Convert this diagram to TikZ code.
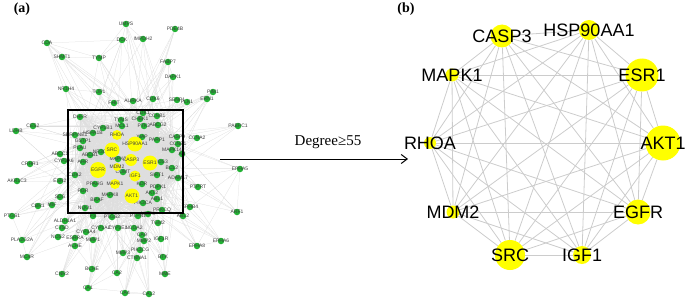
\documentclass[tikz,border=0pt]{standalone}
\usepackage{fontspec}
\setmainfont{Liberation Serif}
\setsansfont{Liberation Sans}
\usetikzlibrary{arrows.meta,backgrounds}
\definecolor{hubyellow}{RGB}{255,255,0}
\definecolor{genegreen}{RGB}{34,177,52}
\begin{document}
\begin{tikzpicture}
[x=1pt,y=-1pt,>={Straight Barb[length=6pt,width=9pt]},
genelab/.style={font=\sffamily\fontsize{5}{5}\selectfont,text=black!75,inner sep=0pt},
gene/.style={circle,fill=genegreen,inner sep=0pt,minimum size=6.5pt,label={[genelab]center:#1}},
hub/.style 2 args={circle,fill=hubyellow,inner sep=0pt,minimum size=#1,label={[genelab]center:#2}},
bhub/.style 2 args={circle,fill=hubyellow,inner sep=0pt,minimum size=#1,label={[font=\sffamily\fontsize{18}{18}\selectfont,inner sep=0pt]center:#2}},
aedge/.style={draw=black!13,line width=0.25pt},
bedge/.style={draw=black!20,line width=0.8pt},
panellab/.style={font=\bfseries\fontsize{14}{14}\selectfont,inner sep=0pt},
]
\useasboundingbox (0,0) rectangle (685,305);
\pgfmathsetseed{7}
% (a) whole network
\def\innergenes{DHFR,CDK1,CCNB1,TYMS,CHEK1,MCL1,PTK2,ABCG2,CYP1B1,HSPA1B,SERPINE1,GSTP1,XIAP,PARP1,CASP9,CCNE1,MAPK14,AR,PLAU,ABCB1,NR3C1,NOS3,MAPK3,COMT,BCL2,CDK2,AHR,SIRT1,ADAM17,KDR,PDPK1,PGR,AKT2,ABL1,MAPK8,BRAF,NQO1,PIK3CA,PRKCQ,F3,PTGS2,PTPN1,MMP9,PPARG,SRC,HSP90AA1,EGFR,ESR1,CASP3,AKT1,IGF1,MAPK1,RHOA,MDM2}
\def\outergenes{UMPS,PDE4B,CDA,DCK,IMPDH2,SHMT1,TYMP,FABP7,DAPK1,NR1H4,TOP1,PIM1,ERN1,FHIT,AURKA,CDK6,SENP1,PLK1,PABPC1,CCNA2,LDHB,CES2,CRHR1,ABCC1,CYP2A6,AKR1C3,ESR2,SDS,CBR1,MIF,PTGS1,ALDH1A1,CTSD,NOS2,ESRRA,ACHE,MMP1,CYP3A4,CYP1A2,CYP2E1,NCOA2,CA9,MMP2,IGF1R,TGM2,EPHA8,EPHA6,PLA2G2A,MMP3,PIK3CG,CTNNA1,BTK,MC4R,BCHE,CNR2,CA2,MME,CA1,CA4,CA12,ARF1,EPHA5,PTPRT,EPHB4,ABL2}
\pgfmathdeclarerandomlist{innerpool}{{DHFR}{CDK1}{TYMS}{CHEK1}{MCL1}{PTK2}{ABCG2}{CYP1B1}{GSTP1}{XIAP}{PARP1}{CCNE1}{MAPK14}{AR}{ABCB1}{NR3C1}{NOS3}{COMT}{BCL2}{CDK2}{KDR}{PDPK1}{PGR}{AKT2}{MAPK8}{BRAF}{NQO1}{PTGS2}{MMP9}{SRC}{HSP90AA1}{EGFR}{ESR1}{CASP3}{AKT1}{IGF1}{MAPK1}{RHOA}{MDM2}{SRC}{EGFR}{AKT1}}
\foreach \n/\x/\y in {DHFR/80/117,CDK1/143/113,CCNB1/157/116,TYMS/121/120,CHEK1/140/119,
  MCL1/122/126,PTK2/144/126,ABCG2/158/125,CYP1B1/103/128,HSPA1B/93/133,SERPINE1/75/135,
  GSTP1/83/141,XIAP/142/137,PARP1/157/140,CASP9/177/137,CCNE1/178/144,MAPK14/172/150,
  AR/182/154,PLAU/80/148,ABCB1/90/155,NR3C1/101/152,NOS3/161/162,MAPK3/118/159,
  COMT/123/172,BCL2/172/168,CDK2/75/175,AHR/83/162,SIRT1/157/175,ADAM17/178/178,
  KDR/142/184,PDPK1/158/187,PGR/83/191,AKT2/152/193,ABL1/157/199,MAPK8/110/195,
  BRAF/97/200,NQO1/85/208,PIK3CA/143/203,PRKCQ/162/210,F3/93/216,PTGS2/112/217,
  PTPN1/138/216,MMP9/148/214,PPARG/95/184}
  \node[gene=\n] (a\n) at (\x,\y) {};
\foreach \n/\x/\y in {UMPS/126/24,PDE4B/175/29,CDA/47/43,DCK/122/40,IMPDH2/143/39,
  SHMT1/62/57,TYMP/99/58,FABP7/168/62,DAPK1/173/77,NR1H4/66/89,TOP1/99/92,PIM1/213/92,
  ERN1/207/99,FHIT/114/103,AURKA/133/101,CDK6/153/99,SENP1/177/100,PLK1/187/102,
  PABPC1/238/126,CCNA2/197/138,LDHB/16/131,CES2/33/126,CRHR1/30/164,ABCC1/60/154,
  CYP2A6/64/161,AKR1C3/17/181,ESR2/60/181,SDS/60/197,CBR1/38/206,MIF/52/205,
  PTGS1/12/216,ALDH1A1/65/221,CTSD/62/228,NOS2/58/237,ESRRA/75/238,ACHE/75/246,
  MMP1/93/240,CYP3A4/86/232,CYP1A2/101/228,CYP2E1/118/228,NCOA2/134/228,CA9/142/235,
  MMP2/144/241,IGF1R/161/239,TGM2/158/223,EPHA8/197/246,EPHA6/221/241,PLA2G2A/22/240,
  MMP3/123/253,PIK3CG/140/250,CTNNA1/137/258,BTK/163/257,MC4R/27/257,BCHE/92/269,
  CNR2/62/274,CA2/117/273,MME/165/274,CA1/88/288,CA4/125/293,CA12/149/294,
  ARF1/237/212,EPHA5/240/169,PTPRT/198/187,EPHB4/190/207,ABL2/183/216}
  \node[gene=\n] (a\n) at (\x,\y) {};
\foreach \n/\x/\y/\d in {SRC/112/150/15,HSP90AA1/135/144/15,EGFR/98/170/16,ESR1/150/163/15,
  CASP3/131/160/12,AKT1/132/196/15,IGF1/135/176/11,MAPK1/115/184/10,RHOA/117/135/10,MDM2/117/167/8}
  \node[hub={\d pt}{\n}] (a\n) at (\x,\y) {};
\begin{scope}[on background layer]
\foreach \a [count=\i] in \innergenes
  \foreach \b [count=\j] in \innergenes
    {\ifnum\j>\i \draw[aedge] (a\a) -- (a\b);\fi}
\foreach \n in \outergenes
  \foreach \k in {1,...,5}
    {\pgfmathrandomitem{\t}{innerpool}
     \draw[aedge] (a\n) -- (a\t);}
\foreach \a/\b in {CA1/CA2,CA2/CA4,CA4/CA12,CA1/CA12,CA2/CA9,CA4/CA9,CA12/CA9,CA1/CA9,
  UMPS/DCK,DCK/CDA,CDA/TYMP,UMPS/TYMP,SHMT1/TYMP,IMPDH2/UMPS,DCK/TYMP,CDA/SHMT1,PIM1/ERN1,
  BCHE/ACHE,EPHA5/EPHA8,EPHA6/EPHA8,EPHA5/EPHB4,EPHA6/EPHB4,ARF1/EPHA5,CNR2/ACHE,
  MC4R/PLA2G2A,PTGS1/PLA2G2A,LDHB/CES2,MME/BTK,CTNNA1/MMP3,FABP7/DAPK1,TOP1/NR1H4}
  \draw[aedge] (a\a) -- (a\b);
\end{scope}
\draw[line width=1.5pt] (68,110) rectangle (183,213);
\node[panellab] (pa) at (22,9) {(a)};
% arrow between panels
\coordinate (arrowtail) at (220,159);
\coordinate (arrowhead) at (408,159);
\draw[->,line width=1pt] (arrowtail) -- (arrowhead);
\node[font=\fontsize{15}{15}\selectfont] (degree) at (328,142) {Degree≥55};
% (b) hub genes
\node[panellab] (pb) at (406,9) {(b)};
\def\bgenes{CASP3,HSP90AA1,ESR1,AKT1,EGFR,IGF1,SRC,MDM2,RHOA,MAPK1}
\foreach \n/\x/\y/\d in {CASP3/502/36/23,HSP90AA1/589/30/20,ESR1/642/75/33,AKT1/663/143/35,
  EGFR/638/212/25,IGF1/582/255/18,SRC/510/255/30,MDM2/453/212/13,RHOA/430/143/12,MAPK1/452/75/13}
  \node[bhub={\d pt}{\n}] (b\n) at (\x,\y) {};
\begin{scope}[on background layer]
\foreach \a [count=\i] in \bgenes
  \foreach \b [count=\j] in \bgenes
    {\ifnum\j>\i \draw[bedge] (b\a) -- (b\b);\fi}
\end{scope}
\end{tikzpicture}
\end{document}
